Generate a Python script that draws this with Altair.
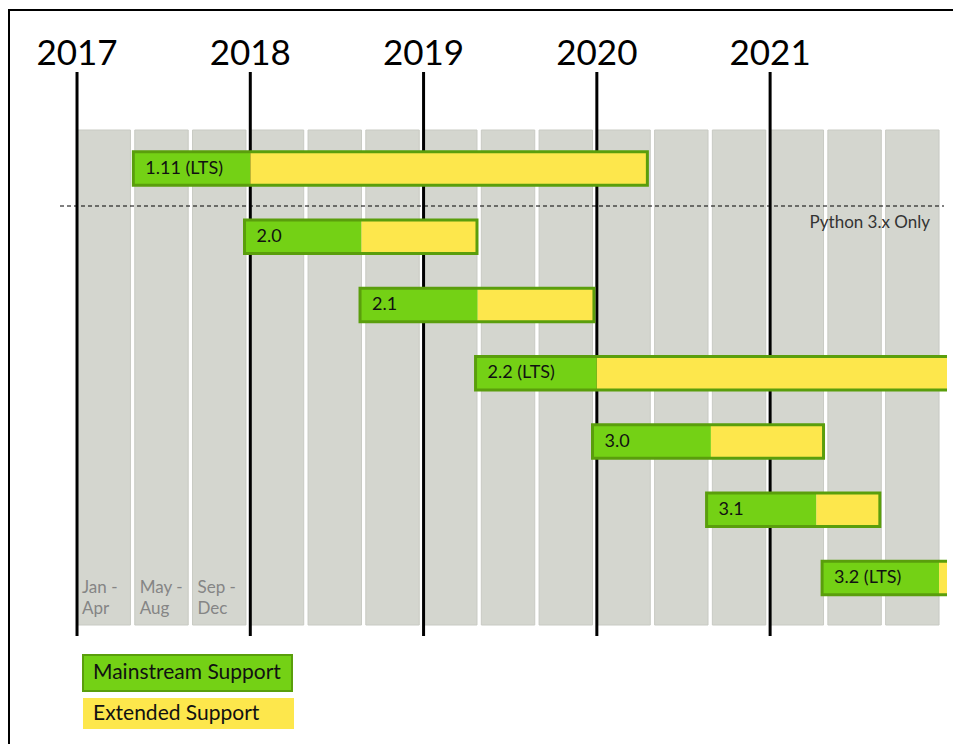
import altair as alt
import pandas as pd

# ---- data (months counted from January 2017) ----
versions = ["1.11 (LTS)", "2.0", "2.1", "2.2 (LTS)", "3.0", "3.1", "3.2 (LTS)"]
release_month = [3.9, 11.6, 19.6, 27.6, 35.7, 43.6, 51.6]
mainstream_end = [12.0, 19.7, 27.75, 36.0, 43.9, 51.2, 59.7]
extended_end = [39.5, 27.7, 35.8, 64.0, 51.7, 55.6, 88.0]
years = [2017, 2018, 2019, 2020, 2021]
period_labels = ["Jan -\nApr", "May -\nAug", "Sep -\nDec"]
legend_labels = ["Mainstream Support", "Extended Support"]
python3_note = "Python 3.x Only"

FONT = "Lato"
GREEN = "#74d115"
GREEN_DARK = "#5a9e0c"
YELLOW = "#fde74c"
GRAY = "#d4d6cf"

bars = pd.DataFrame({
    "version": versions,
    "row": list(range(len(versions))),
    "start": release_month,
    "main_end": mainstream_end,
    "end": extended_end,
})
year_df = pd.DataFrame({"year": years, "month": [12 * (y - years[0]) for y in years]})
cols = pd.DataFrame({"start": [4 * i for i in range(3 * len(years))]})
cols["stop"] = cols["start"] + 4
periods = pd.DataFrame({"label": period_labels, "start": [0, 4, 8]})

H = 736
W = 939
xs = alt.Scale(domain=[-4.78, 60.25], nice=False, zero=False)
ys = alt.Scale(domain=[-2.352, -2.352 + H / 68.25], nice=False, zero=False, reverse=True)

X = lambda f: alt.X(f, type="quantitative", scale=xs, axis=None)
Y = lambda f: alt.Y(f, type="quantitative", scale=ys, axis=None)

columns = alt.Chart(cols).transform_calculate(x2c="datum.stop - 0.3").mark_rect(
    fill=GRAY, stroke="#c8cac3", strokeWidth=1
).encode(x=X("start"), x2="x2c:Q", y=alt.value(122), y2=alt.value(617))

col_text = alt.Chart(periods).mark_text(
    align="left", baseline="alphabetic", dx=5, fontSize=17, font=FONT,
    color="#858585", lineBreak="\n", lineHeight=21
).encode(x=X("start"), y=alt.value(585), text="label:N")

year_lines = alt.Chart(year_df).mark_rule(color="black", strokeWidth=3).encode(
    x=X("month"), y=alt.value(64), y2=alt.value(628)
)
year_text = alt.Chart(year_df).mark_text(
    fontSize=35, font=FONT, color="black", baseline="alphabetic", align="center"
).encode(x=X("month"), y=alt.value(57), text="year:N")

dash = alt.Chart(pd.DataFrame({"t": [python3_note]})).mark_rule(
    color="black", strokeWidth=1, strokeDash=[4, 3]
).encode(x=alt.value(52), x2=alt.value(936), y=alt.value(198))
dash_text = alt.Chart(pd.DataFrame({"t": [python3_note]})).mark_text(
    align="right", baseline="alphabetic", fontSize=17, font=FONT, color="#333333"
).encode(x=alt.value(922), y=alt.value(220), text="t:N")

base = alt.Chart(bars).transform_calculate(y0="datum.row - 0.245", y1="datum.row + 0.245")
green = base.mark_rect(fill=GREEN, clip=True).encode(
    x=X("start"), x2="main_end:Q", y=Y("y0:Q"), y2="y1:Q"
)
yellow = base.mark_rect(fill=YELLOW, clip=True).encode(
    x=X("main_end"), x2="end:Q", y=Y("y0:Q"), y2="y1:Q"
)
outline = base.mark_rect(fill=None, fillOpacity=0, stroke=GREEN_DARK, strokeWidth=3, clip=True).encode(
    x=X("start"), x2="end:Q", y=Y("y0:Q"), y2="y1:Q"
)
labels = alt.Chart(bars).mark_text(
    align="left", baseline="middle", dx=12, fontSize=18, font=FONT, color="#111111"
).encode(x=X("start"), y=Y("row"), text="version:N")

leg = pd.DataFrame({"label": legend_labels})
leg_green = alt.Chart(leg.iloc[[0]]).mark_rect(fill=GREEN, stroke=GREEN_DARK, strokeWidth=2).encode(
    x=alt.value(75), x2=alt.value(284), y=alt.value(647), y2=alt.value(683)
)
leg_green_t = alt.Chart(leg.iloc[[0]]).mark_text(
    align="left", baseline="middle", fontSize=21, font=FONT, color="#111111"
).encode(x=alt.value(85), y=alt.value(665), text="label:N")
leg_yellow = alt.Chart(leg.iloc[[1]]).mark_rect(fill=YELLOW).encode(
    x=alt.value(75), x2=alt.value(286), y=alt.value(690), y2=alt.value(721)
)
leg_yellow_t = alt.Chart(leg.iloc[[1]]).mark_text(
    align="left", baseline="middle", fontSize=21, font=FONT, color="#111111"
).encode(x=alt.value(85), y=alt.value(706), text="label:N")

frame_left = alt.Chart(leg.iloc[[0]]).mark_rule(color="black", strokeWidth=2).encode(
    x=alt.value(1), y=alt.value(2), y2=alt.value(H)
)
frame_top = alt.Chart(leg.iloc[[0]]).mark_rule(color="black", strokeWidth=2).encode(
    x=alt.value(0), x2=alt.value(945), y=alt.value(2)
)

chart = alt.layer(
    columns, col_text, year_lines, year_text, dash, dash_text,
    green, yellow, outline, labels,
    leg_green, leg_green_t, leg_yellow, leg_yellow_t,
    frame_left, frame_top,
).properties(
    width=W, height=H,
    autosize=alt.AutoSizeParams(type="none"),
    padding={"left": 0, "top": 0, "right": 6, "bottom": 0},
    background="white",
).configure_view(stroke=None)

chart.save("out.html", embed_options={"renderer": "svg", "actions": False})
